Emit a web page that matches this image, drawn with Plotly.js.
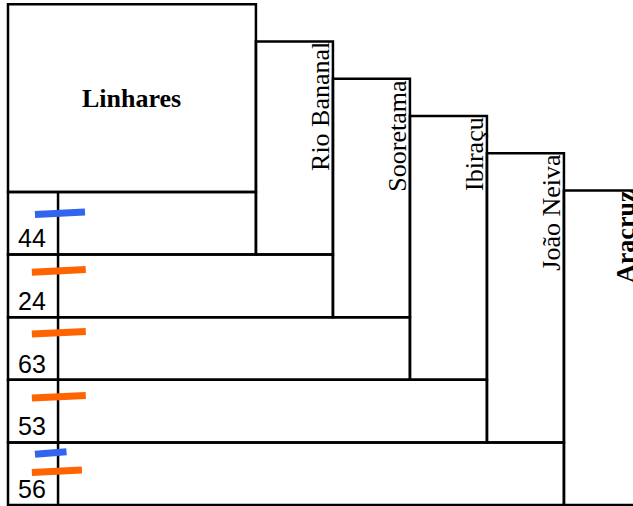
<!DOCTYPE html>
<html>
<head>
<meta charset="utf-8">
<script src="https://cdn.plot.ly/plotly-3.0.1.min.js"></script>
<style>html,body{margin:0;padding:0;background:#fff;}#chart{width:633px;height:506px;}</style>
</head>
<body>
<div id="chart"></div>
<script>
// ---- data ----
const municipalities = ['Linhares', 'Rio Bananal', 'Sooretama', 'Ibiraçu', 'João Neiva', 'Aracruz'];
const boldLabel = [true, false, false, false, false, true];
const rowTotals = [44, 24, 63, 53, 56];
const blueLength = [0.65, null, null, null, 0.41];
const blueLevel = [0.66, null, null, null, 0.83];
const orangeLength = [null, 0.70, 0.70, 0.70, 0.65];
const orangeLevel = [null, 0.74, 0.75, 0.73, 0.54];

// ---- layout constants ----
const W0 = 3.22;          // width of first block (in column units)
const DIV = 0.65;         // inner divider position
const NROWS = rowTotals.length;
const HEAD = 3;           // height of first block (rows)
const STEP = 0.595;       // drop of each column top
const blueStart = 0.35, orangeStart = 0.31, tilt = 0.02;
const LINE = {color: '#000', width: 2.5};
const SERIF = 26;

const shapes = [];
const annotations = [];

// first block
shapes.push({type: 'rect', x0: 0, x1: W0, y0: NROWS, y1: NROWS + HEAD, line: LINE, layer: 'below'});
annotations.push({x: W0 / 2, y: NROWS + HEAD / 2, text: municipalities[0], showarrow: false,
  font: {family: 'Liberation Serif', size: SERIF, color: '#000', weight: 'bold'}});

// rows
rowTotals.forEach((v, r) => {
  shapes.push({type: 'rect', x0: 0, x1: W0 + r, y0: NROWS - 1 - r, y1: NROWS - r, line: LINE, layer: 'below'});
  annotations.push({x: DIV / 2 - 0.015, y: NROWS - 1 - r + 0.26, text: String(v), showarrow: false,
    font: {family: 'Liberation Sans', size: 25, color: '#000'}});
});
// divider
shapes.push({type: 'line', x0: DIV, x1: DIV, y0: 0, y1: NROWS, line: LINE, layer: 'below'});

// columns
for (let j = 1; j < municipalities.length; j++) {
  const top = NROWS + HEAD - STEP * j;
  const right = W0 + j;
  const inset = boldLabel[j] ? 0.2 : 0.155;
  shapes.push({type: 'rect', x0: right - 1, x1: right, y0: NROWS - j, y1: top, line: LINE, layer: 'below'});
  annotations.push({x: right - inset, y: top, xanchor: 'center', yanchor: 'top', textangle: -90,
    text: municipalities[j], showarrow: false, borderpad: 0,
    font: {family: 'Liberation Serif', size: SERIF, color: '#000', weight: boldLabel[j] ? 'bold' : 'normal'}});
}

// bars
function segs(len, lvl, start) {
  const x = [], y = [];
  len.forEach((L, r) => {
    if (L == null) return;
    const base = NROWS - 1 - r + lvl[r];
    x.push(start, start + L, null);
    y.push(base - tilt, base + tilt, null);
  });
  return {x, y};
}
const b = segs(blueLength, blueLevel, blueStart);
const o = segs(orangeLength, orangeLevel, orangeStart);
const traces = [
  {x: b.x, y: b.y, mode: 'lines', line: {color: '#3264f0', width: 7}, hoverinfo: 'skip', cliponaxis: false},
  {x: o.x, y: o.y, mode: 'lines', line: {color: '#ff6400', width: 7}, hoverinfo: 'skip', cliponaxis: false}
];

const layout = {
  width: 633, height: 506,
  margin: {l: 0, r: 0, t: 0, b: 0},
  paper_bgcolor: '#fff', plot_bgcolor: '#fff',
  showlegend: false,
  xaxis: {range: [-8 / 77, 625 / 77], visible: false, fixedrange: true},
  yaxis: {range: [-1 / 62.6, 505 / 62.6], visible: false, fixedrange: true},
  shapes, annotations
};
Plotly.newPlot('chart', traces, layout, {displayModeBar: false, staticPlot: true});
</script>
</body>
</html>
